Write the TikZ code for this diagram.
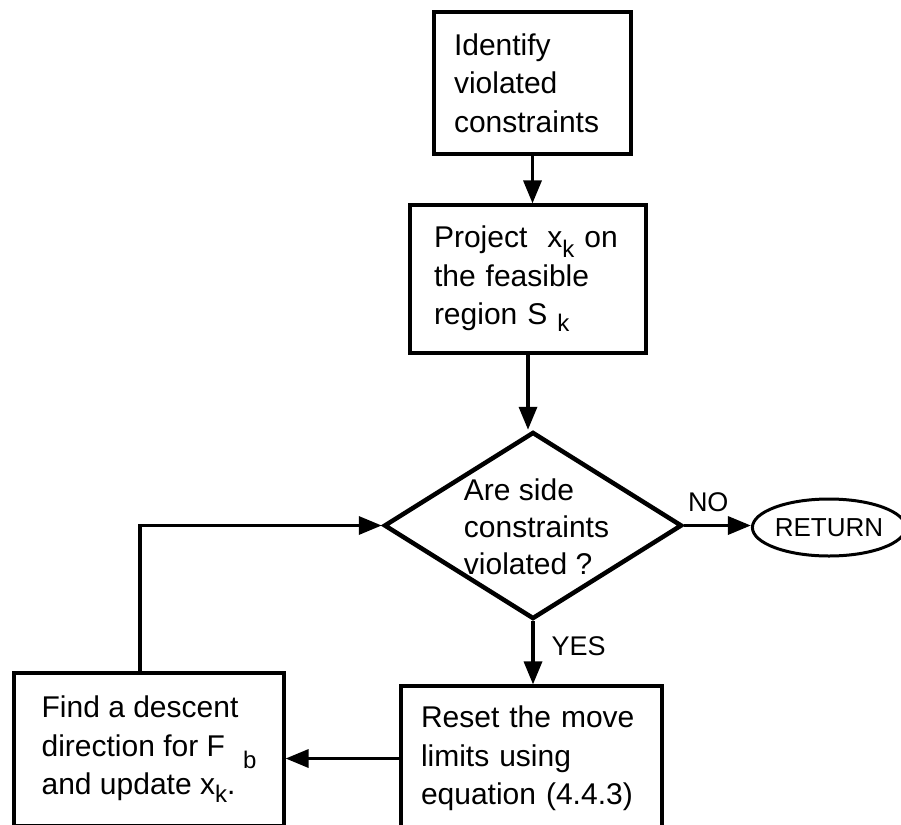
\documentclass[tikz,border=0pt]{standalone}
\usepackage{fontspec}
\setmainfont{Liberation Sans}
\usetikzlibrary{shapes.geometric,arrows.meta}
\newcommand{\dropsub}[2]{\raisebox{-#1pt}{\fontsize{24}{24}\selectfont #2}}

\begin{document}
\begin{tikzpicture}[x=1pt,y=1pt,yscale=-1,
	box/.style={draw,rectangle,line width=3.2pt,inner sep=0pt,align=left,font=\fontsize{30}{38.5}\selectfont},
	arr/.style={line width=3.4pt,-{Triangle[length=23pt,width=18pt]}},
	lbl/.style={inner sep=0pt,font=\fontsize{27}{27}\selectfont}]
			\clip (0,0) rectangle (901,824);
			\node[box,minimum width=197pt,minimum height=142pt,text width=157pt] (ident) at (532.5,83) {Identify\\violated\\constraints};
			\node[box,minimum width=236pt,minimum height=148pt,text width=188pt] (project) at (528,279) {Project\hspace{20pt}x\dropsub{10}{k} on\\the feasible\\region S \dropsub{7}{k}};
			\node[draw,diamond,line width=4.5pt,inner sep=0pt,minimum width=298pt,minimum height=187pt] (cond) at (533,525.5) {};
			\node[inner sep=0pt,align=left,font=\fontsize{30}{37}\selectfont] (condtext) at (536.5,526.5) {Are side\\constraints\\violated ?};
			\node[draw,ellipse,line width=3pt,inner sep=0pt,minimum width=150pt,minimum height=57pt,font=\fontsize{26}{26}\selectfont] (ret) at (829,527.5) {RETURN};
			\node[box,minimum width=261pt,minimum height=145pt,text width=221pt] (reset) at (531.5,758.5) {Reset the move\\limits using\\equation (4.4.3)};
			\node[box,minimum width=270pt,minimum height=153pt] (find) at (149,749.5) {Find a descent\\direction for F\hspace{18pt}\dropsub{12}{b}\\and update x\dropsub{8}{k}.};
			\draw[arr] (ident.south) -- (ident.south |- project.north);
			\draw[arr] (project.south) -- (project.south |- cond.north);
			\draw[arr] (cond.east) -- (cond.east -| ret.west) node[lbl,pos=0.36,above=12pt] {NO};
			\draw[arr] (cond.south) -- (cond.south |- reset.north) node[lbl,pos=0.4,right=17pt] {YES};
			\draw[arr] (reset.west) -- (reset.west -| find.east);
			\draw[arr] ([xshift=-9pt]find.north) |- (cond.west);
\end{tikzpicture}
\end{document}
